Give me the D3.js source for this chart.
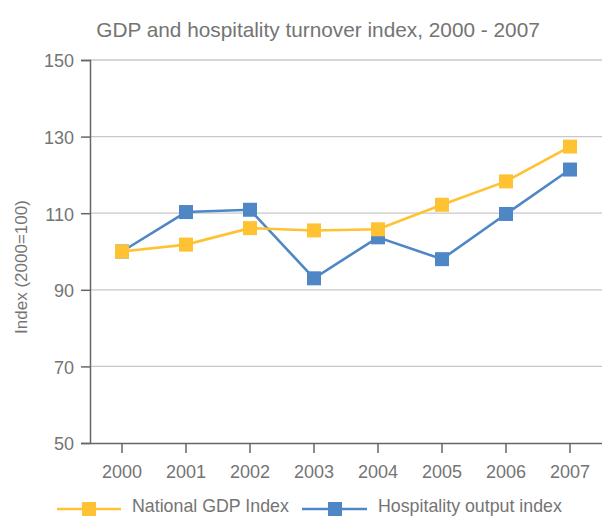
<!DOCTYPE html>
<html>
<head>
<meta charset="utf-8">
<script src="https://cdn.jsdelivr.net/npm/d3@7"></script>
<style>
  body { margin: 0; background: #fff; }
  text { font-family: "Liberation Sans", Arial, sans-serif; }
</style>
</head>
<body>
<div id="chart-area"></div>
<script>
const years = ['2000','2001','2002','2003','2004','2005','2006','2007'];
const gdpIndex = [100, 101.8, 106.1, 105.5, 105.8, 112.2, 118.3, 127.4];
const hospitalityIndex = [100, 110.3, 110.9, 93.0, 103.7, 98.0, 109.8, 121.4];
const yTicks = [50, 70, 90, 110, 130, 150];
const seriesNames = ['National GDP Index', 'Hospitality output index'];

const WIDTH = 602, HEIGHT = 516;
const MARGIN = { LEFT: 90, RIGHT: 0, TOP: 60, BOTTOM: 73 };
const TEXT_COLOR = '#747474';

const svg = d3.select('#chart-area')
  .append('svg')
  .attr('width', WIDTH)
  .attr('height', HEIGHT);

const x = d3.scaleBand()
  .domain(years)
  .range([MARGIN.LEFT, WIDTH - MARGIN.RIGHT]);

const y = d3.scaleLinear()
  .domain([50, 150])
  .range([HEIGHT - MARGIN.BOTTOM, MARGIN.TOP]);

// title
svg.append('text')
  .attr('x', 318)
  .attr('y', 37)
  .attr('text-anchor', 'middle')
  .attr('font-size', '20.8px')
  .attr('fill', TEXT_COLOR)
  .text('GDP and hospitality turnover index, 2000 - 2007');

// gridlines
svg.append('g')
  .selectAll('line')
  .data(yTicks.filter(d => d > 50))
  .enter().append('line')
  .attr('x1', MARGIN.LEFT)
  .attr('x2', WIDTH)
  .attr('y1', d => y(d))
  .attr('y2', d => y(d))
  .attr('stroke', '#c8c8c8')
  .attr('stroke-width', 1.3);

// y axis
const yAxis = svg.append('g')
  .attr('transform', `translate(${MARGIN.LEFT},0)`)
  .call(d3.axisLeft(y).tickValues(yTicks).tickSize(9).tickPadding(7));
yAxis.select('.domain').attr('stroke', '#666').attr('stroke-width', 1.5);
yAxis.selectAll('.tick line').attr('stroke', '#666').attr('stroke-width', 1.5);
yAxis.selectAll('text')
  .attr('font-size', '18px')
  .attr('dy', '0.38em')
  .attr('fill', TEXT_COLOR)
  .style('font-family', '"Liberation Sans", Arial, sans-serif');

// x axis
const xAxis = svg.append('g')
  .attr('transform', `translate(0,${y(50)})`)
  .call(d3.axisBottom(x).tickSize(10).tickSizeOuter(0).tickPadding(12));
xAxis.select('.domain').attr('stroke', '#666').attr('stroke-width', 1.5);
xAxis.selectAll('.tick line').attr('stroke', '#666').attr('stroke-width', 1.5);
xAxis.selectAll('text')
  .attr('font-size', '18px')
  .attr('fill', TEXT_COLOR)
  .style('font-family', '"Liberation Sans", Arial, sans-serif');

// y axis label
svg.append('text')
  .attr('transform', 'rotate(-90)')
  .attr('x', -267)
  .attr('y', 27)
  .attr('text-anchor', 'middle')
  .attr('font-size', '17px')
  .attr('fill', TEXT_COLOR)
  .text('Index (2000=100)');

const series = [
  { name: seriesNames[1], values: hospitalityIndex, color: '#4f86c6' },
  { name: seriesNames[0], values: gdpIndex, color: '#ffc232' }
];

const line = d3.line()
  .x((d, i) => x(years[i]) + x.bandwidth() / 2)
  .y(d => y(d));

const MS = 14;
series.forEach(s => {
  const g = svg.append('g');
  g.append('path')
    .datum(s.values)
    .attr('d', line)
    .attr('fill', 'none')
    .attr('stroke', s.color)
    .attr('stroke-width', 2.6);
  g.selectAll('rect')
    .data(s.values)
    .enter().append('rect')
    .attr('x', (d, i) => x(years[i]) + x.bandwidth() / 2 - MS / 2)
    .attr('y', d => y(d) - MS / 2)
    .attr('width', MS)
    .attr('height', MS)
    .attr('fill', s.color);
});

// legend
const legendItems = [
  { name: seriesNames[0], color: '#ffc232', x1: 57, x2: 121, mx: 89, tx: 132 },
  { name: seriesNames[1], color: '#4f86c6', x1: 302, x2: 367, mx: 335, tx: 378 }
];
const ly = 509;
const legend = svg.append('g');
legendItems.forEach(l => {
  legend.append('line')
    .attr('x1', l.x1).attr('x2', l.x2)
    .attr('y1', ly).attr('y2', ly)
    .attr('stroke', l.color)
    .attr('stroke-width', 2.6);
  legend.append('rect')
    .attr('x', l.mx - MS / 2)
    .attr('y', ly - MS / 2)
    .attr('width', MS).attr('height', MS)
    .attr('fill', l.color);
  legend.append('text')
    .attr('x', l.tx)
    .attr('y', ly + 3)
    .attr('font-size', '17.8px')
    .attr('fill', TEXT_COLOR)
    .text(l.name);
});
</script>
</body>
</html>
